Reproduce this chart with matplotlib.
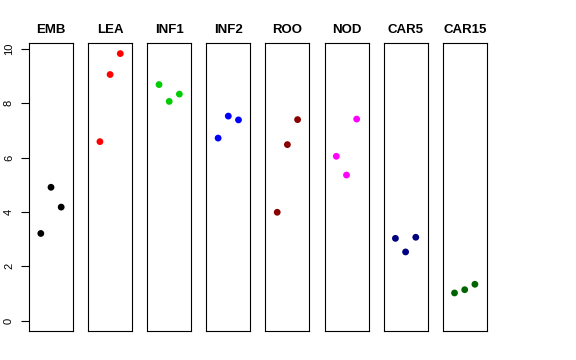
import matplotlib
matplotlib.use("Agg")
import matplotlib.pyplot as plt

plt.rcParams["font.family"] = ["Liberation Sans", "DejaVu Sans"]

GROUPS = ["EMB", "LEA", "INF1", "INF2", "ROO", "NOD", "CAR5", "CAR15"]
COLORS = ["black", "red", "#00CD00", "blue", "#8B0000", "magenta", "#000080", "#006400"]
X_POS = [1, 2, 3]
VALUES = {
    "EMB": [3.21, 4.91, 4.18],
    "LEA": [6.59, 9.06, 9.83],
    "INF1": [8.69, 8.07, 8.34],
    "INF2": [6.72, 7.53, 7.39],
    "ROO": [3.99, 6.48, 7.40],
    "NOD": [6.05, 5.36, 7.42],
    "CAR5": [3.03, 2.53, 3.07],
    "CAR15": [1.02, 1.14, 1.34],
}
Y_TICKS = [0, 2, 4, 6, 8, 10]

W, H = 576, 360
fig = plt.figure(figsize=(W / 100, H / 100), dpi=100)

left0, step, width = 29, 59.1, 44
bottom, top = 29, 317

for i, (name, color) in enumerate(zip(GROUPS, COLORS)):
    ax = fig.add_axes([(left0 + step * i) / W, bottom / H, width / W, (top - bottom) / H])
    ax.scatter(X_POS, VALUES[name], s=24, color=color, edgecolors="none", zorder=3)
    ax.set_xlim(-0.16, 4.16)
    ax.set_ylim(-0.38, 10.22)
    ax.set_xticks([])
    ax.set_title(name, fontsize=9.5, fontweight="bold", pad=7)
    for sp in ax.spines.values():
        sp.set_linewidth(0.8)
        sp.set_color("black")
    if i == 0:
        ax.set_yticks(Y_TICKS)
        ax.set_yticklabels([str(t) for t in Y_TICKS], rotation=90, va="center", fontsize=8)
        ax.tick_params(axis="y", length=5.8, width=0.8, pad=5)
    else:
        ax.set_yticks([])

fig.savefig("out.png", dpi=100)
